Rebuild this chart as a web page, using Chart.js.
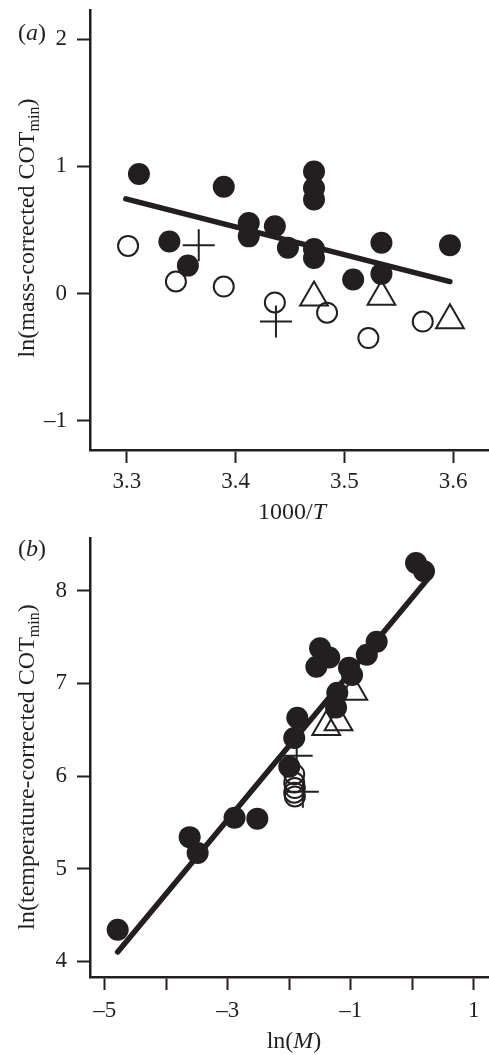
<!DOCTYPE html>
<html>
<head>
<meta charset="utf-8">
<script src="https://cdn.jsdelivr.net/npm/chart.js@4/dist/chart.umd.min.js"></script>
<style>
  html, body { margin: 0; padding: 0; background: #fff; }
  .panel { position: absolute; left: 0; width: 489px; }
  #panelA { top: 0; height: 530px; }
  #panelB { top: 530px; height: 525px; }
</style>
</head>
<body>
<div class="panel" id="panelA"><canvas id="chartA" width="489" height="530"></canvas></div>
<div class="panel" id="panelB"><canvas id="chartB" width="489" height="525"></canvas></div>
<script>
// panel (a): ln(mass-corrected COTmin) vs 1000/T
const xTicksA = [3.3, 3.4, 3.5, 3.6];
const yTicksA = [-1, 0, 1, 2];
const filledAX = [3.311, 3.389, 3.472, 3.472, 3.472, 3.412, 3.412, 3.436, 3.339, 3.448, 3.472, 3.472, 3.534, 3.597, 3.356, 3.508, 3.534];
const filledAY = [0.94, 0.84, 0.96, 0.83, 0.74, 0.555, 0.45, 0.53, 0.41, 0.36, 0.35, 0.28, 0.40, 0.38, 0.22, 0.11, 0.155];
const openAX = [3.301, 3.345, 3.389, 3.436, 3.484, 3.522, 3.572];
const openAY = [0.375, 0.095, 0.055, -0.07, -0.15, -0.35, -0.22];
const triAX = [3.472, 3.534, 3.597];
const triAY = [-0.03, -0.025, -0.21];
const crossAX = [3.366, 3.437];
const crossAY = [0.38, -0.22];
const fitAX = [3.299, 3.597];
const fitAY = [0.745, 0.094];

// panel (b): ln(temperature-corrected COTmin) vs ln(M)
const xTicksB = [-5, -4, -3, -2, -1, 0, 1];
const yTicksB = [4, 5, 6, 7, 8];
const filledBX = [0.06, 0.19, -0.58, -0.74, -1.50, -1.35, -1.56, -1.03, -0.98, -1.22, -1.24, -1.87, -1.92, -2.0, -3.62, -3.49, -2.89, -2.52, -4.79];
const filledBY = [8.30, 8.21, 7.45, 7.31, 7.38, 7.28, 7.18, 7.17, 7.09, 6.90, 6.74, 6.63, 6.41, 6.10, 5.34, 5.17, 5.55, 5.54, 4.34];
const openBX = [-1.92, -1.92, -1.91, -1.92, -1.91];
const openBY = [6.02, 5.93, 5.87, 5.82, 5.78];
const triBX = [-0.96, -1.40, -1.20];
const triBY = [6.91, 6.53, 6.58];
const crossBX = [-1.88, -1.78];
const crossBY = [6.22, 5.83];
const fitBX = [-4.79, 0.24];
const fitBY = [4.10, 8.12];

const INK = '#231f20';
const SERIF = '"Liberation Serif", "Times New Roman", serif';

const pts = (xs, ys) => xs.map((x, i) => ({ x: x, y: ys[i] }));
const minus = v => (v < 0 ? '\u2013' + Math.abs(v) : String(v));

function markerSets(fx, fy, ox, oy, tx, ty, cx, cy, lx, ly) {
  return [
    { type: 'line', data: pts(lx, ly), borderColor: INK, borderWidth: 5.5, borderCapStyle: 'round', pointRadius: 0, fill: false },
    { data: pts(fx, fy), pointStyle: 'circle', pointRadius: 11, backgroundColor: INK, borderWidth: 0 },
    { data: pts(ox, oy), pointStyle: 'circle', pointRadius: 10, backgroundColor: 'rgba(0,0,0,0)', borderColor: INK, borderWidth: 2 },
    { data: pts(tx, ty), pointStyle: 'triangle', pointRadius: 16, backgroundColor: 'rgba(0,0,0,0)', borderColor: INK, borderWidth: 2 },
    { data: pts(cx, cy), pointStyle: 'cross', pointRadius: 16, borderColor: INK, borderWidth: 2 }
  ];
}

function fontOf(p) {
  if (p.sub) return '16px ' + SERIF;
  return (p.i ? 'italic ' : '') + '24px ' + SERIF;
}

// draws a run of text pieces (italic / subscript) starting or centred at x
function drawRuns(ctx, parts, x, y, centre) {
  const widths = parts.map(p => { ctx.font = fontOf(p); return ctx.measureText(p.t).width; });
  let cx = centre ? x - widths.reduce((a, b) => a + b, 0) / 2 : x;
  ctx.fillStyle = INK;
  ctx.textBaseline = 'alphabetic';
  ctx.textAlign = 'left';
  parts.forEach((p, i) => {
    ctx.font = fontOf(p);
    ctx.fillText(p.t, cx, y + (p.sub ? 5 : 0));
    cx += widths[i];
  });
}

const textPlugin = {
  id: 'panelText',
  afterDraw(chart, args, o) {
    const ctx = chart.ctx;
    ctx.save();
    drawRuns(ctx, o.tag, 18, o.tagY, false);
    drawRuns(ctx, o.xTitle, o.xTitleX, o.xTitleY, true);
    ctx.translate(34, o.yTitleY);
    ctx.rotate(-Math.PI / 2);
    drawRuns(ctx, o.yTitle, 0, 0, true);
    ctx.restore();
  }
};

function fixSize(size) {
  return s => {
    if (s.isHorizontal()) s.height = size; else s.width = size;
    s.paddingTop = s.paddingBottom = s.paddingLeft = s.paddingRight = 0;
  };
}

function axis(min, max, ticks, fmt, size, pad) {
  return {
    type: 'linear', min: min, max: max,
    afterBuildTicks: s => { s.ticks = ticks.map(v => ({ value: v })); },
    afterFit: fixSize(size),
    border: { display: true, color: INK, width: 2.5 },
    grid: { drawOnChartArea: false, drawTicks: true, tickLength: 13, tickWidth: 2, tickColor: INK },
    ticks: { color: INK, padding: pad, font: { family: SERIF, size: 23 }, callback: fmt }
  };
}

function build(id, sets, xs, ys, top, text) {
  return new Chart(document.getElementById(id), {
    type: 'scatter',
    data: { datasets: sets },
    options: {
      responsive: false,
      animation: false,
      devicePixelRatio: 1,
      layout: { autoPadding: false, padding: { top: top, right: 1, left: 0, bottom: 0 } },
      plugins: { legend: { display: false }, tooltip: { enabled: false }, panelText: text },
      scales: { x: xs, y: ys }
    },
    plugins: [textPlugin]
  });
}

build('chartA',
  markerSets(filledAX, filledAY, openAX, openAY, triAX, triAY, crossAX, crossAY, fitAX, fitAY),
  axis(3.266, 3.632, xTicksA, v => v.toFixed(1), 80, 5),
  axis(-1.23, 2.23, yTicksA, minus, 90, 10),
  10,
  {
    tag: [{ t: '(' }, { t: 'a', i: true }, { t: ')' }], tagY: 40,
    xTitle: [{ t: '1000/' }, { t: 'T', i: true }], xTitleX: 292, xTitleY: 519,
    yTitle: [{ t: 'ln(mass-corrected COT' }, { t: 'min', sub: true }, { t: ')' }], yTitleY: 228
  });

build('chartB',
  markerSets(filledBX, filledBY, openBX, openBY, triBX, triBY, crossBX, crossBY, fitBX, fitBY),
  axis(-5.24, 1.23, xTicksB, v => (Math.abs(v) % 2 === 1 ? minus(v) : ''), 78, 7),
  axis(3.83, 8.57, yTicksB, minus, 90, 10),
  8,
  {
    tag: [{ t: '(' }, { t: 'b', i: true }, { t: ')' }], tagY: 26,
    xTitle: [{ t: 'ln(' }, { t: 'M', i: true }, { t: ')' }], xTitleX: 294, xTitleY: 518,
    yTitle: [{ t: 'ln(temperature-corrected COT' }, { t: 'min', sub: true }, { t: ')' }], yTitleY: 237
  });
</script>
</body>
</html>
